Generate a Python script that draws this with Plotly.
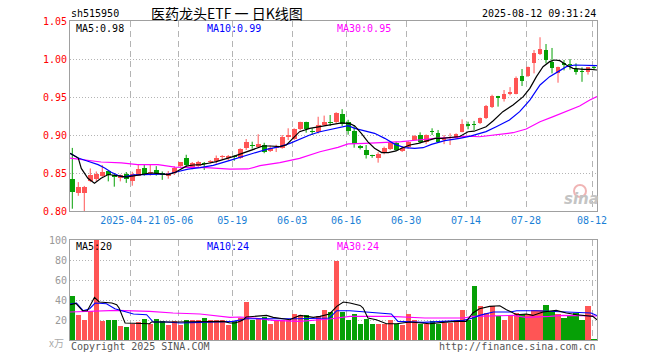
import plotly.graph_objects as go

# ---------------- data ----------------
dates = ["04-07","04-08","04-09","04-10","04-11","04-14","04-15","04-16","04-17","04-18",
         "04-21","04-22","04-23","04-24","04-25","04-28","04-29","04-30",
         "05-06","05-07","05-08","05-09","05-12","05-13","05-14","05-15","05-16","05-19","05-20",
         "05-21","05-22","05-23","05-26","05-27","05-28","05-29","05-30",
         "06-03","06-04","06-05","06-06","06-09","06-10","06-11","06-12","06-13","06-16","06-17",
         "06-18","06-19","06-20","06-23","06-24","06-25","06-26","06-27","06-30",
         "07-01","07-02","07-03","07-04","07-07","07-08","07-09","07-10","07-11","07-14","07-15",
         "07-16","07-17","07-18","07-21","07-22","07-23","07-24","07-25","07-28","07-29","07-30","07-31",
         "08-01","08-04","08-05","08-06","08-07","08-08","08-11","08-12"]

opens = [0.842,0.824,0.824,0.8395,0.8417,0.8465,0.852,0.848,0.8435,0.849,
         0.840,0.8465,0.857,0.850,0.854,0.8496,0.8465,0.8504,0.8588,0.870,
         0.8579,0.8596,0.8635,0.8645,0.8658,0.8705,0.8693,0.8715,0.8702,0.8825,
         0.8875,0.8846,0.8868,0.879,0.8825,0.8833,0.898,0.8947,0.908,0.9167,
         0.9055,0.9035,0.9132,0.9175,0.9167,0.9272,0.9167,0.9057,0.886,0.8803,
         0.873,0.8702,0.876,0.8816,0.890,0.8794,0.8838,0.8934,0.900,0.8904,
         0.9055,0.9022,0.894,0.896,0.8965,0.9043,0.914,0.9145,0.9154,0.922,
         0.9373,0.9513,0.947,0.954,0.954,0.9776,0.9776,0.9943,1.0062,1.0118,
         0.9965,0.982,0.9951,0.9925,0.9868,0.9838,0.9833,0.990]
highs = [0.883,0.838,0.833,0.856,0.852,0.8605,0.853,0.850,0.848,0.8513,
         0.8517,0.8605,0.861,0.8605,0.859,0.852,0.8526,0.8588,0.8645,0.874,
         0.8645,0.866,0.8645,0.867,0.873,0.8735,0.8737,0.8735,0.8825,0.8947,
         0.8912,0.901,0.8898,0.886,0.8872,0.900,0.9088,0.9088,0.9175,0.9175,
         0.9088,0.924,0.9255,0.9263,0.930,0.934,0.920,0.913,0.8868,0.8868,
         0.874,0.8773,0.8847,0.8912,0.891,0.8855,0.8921,0.900,0.9035,0.9008,
         0.9088,0.9066,0.900,0.9022,0.9022,0.9206,0.9175,0.9185,0.923,0.9395,
         0.953,0.9515,0.9592,0.963,0.977,0.9868,0.990,1.0118,1.0286,1.0197,
         1.0145,0.9899,0.9987,1.000,0.9943,0.989,0.9895,0.991]
lows = [0.803,0.820,0.800,0.838,0.839,0.845,0.839,0.832,0.839,0.837,
        0.8333,0.846,0.8465,0.8465,0.8465,0.841,0.8425,0.8474,0.858,0.858,
        0.8549,0.858,0.854,0.8625,0.8625,0.8675,0.8667,0.866,0.8684,0.8803,
        0.882,0.883,0.876,0.8776,0.8776,0.882,0.8934,0.8934,0.9062,0.903,
        0.900,0.902,0.9118,0.9118,0.915,0.9118,0.9004,0.8833,0.881,0.869,
        0.870,0.8636,0.8746,0.8803,0.879,0.8776,0.882,0.8934,0.889,0.888,
        0.900,0.8904,0.888,0.8868,0.8952,0.9035,0.9075,0.9066,0.9145,0.921,
        0.9355,0.9373,0.944,0.9522,0.9535,0.9645,0.9763,0.9811,1.0053,0.9943,
        0.9811,0.9688,0.985,0.986,0.9794,0.970,0.9795,0.986]
closes = [0.825,0.831,0.831,0.8474,0.8487,0.851,0.847,0.845,0.847,0.842,
          0.8487,0.8553,0.8487,0.851,0.8496,0.8478,0.8496,0.857,0.864,0.861,
          0.8628,0.864,0.862,0.866,0.870,0.8715,0.8724,0.8705,0.8816,0.8912,
          0.886,0.8877,0.878,0.8825,0.884,0.8978,0.900,0.908,0.9175,0.9075,
          0.9035,0.9132,0.9175,0.916,0.9285,0.914,0.9057,0.8882,0.8825,0.8737,
          0.872,0.8746,0.8825,0.8904,0.8803,0.8833,0.8912,0.899,0.8912,0.900,
          0.9043,0.8912,0.8955,0.8972,0.901,0.9145,0.9125,0.9135,0.922,0.9382,
          0.9513,0.9483,0.954,0.9562,0.9746,0.971,0.989,1.0083,1.0132,0.9987,
          0.9878,0.989,0.9917,0.9915,0.9833,0.9828,0.989,0.988]
volumes = [43.6,24.6,19.6,29,100,18.6,19.6,20.3,14.3,12.6,
           16.3,17.6,21.3,16.3,21.3,18.6,15.3,19.3,14.6,20.3,
           20.3,19.6,22.3,19.6,20.3,20.3,14.6,18.6,22.3,38.3,
           19.6,21.3,23.3,15.6,19.6,20.3,20.3,26.3,24.6,24.6,
           16.3,24.3,29.6,28.3,78.6,28,20.3,26.3,15.6,21.3,
           15.6,16.3,15.6,20.3,16.3,14.6,25.6,19.6,16.3,16.3,
           18.6,16.3,17,17,18,30.3,20.3,54.3,34.3,27,
           33.6,23.6,19.6,24.6,27,26,26,30.3,30.3,35.3,
           28,26.3,22.3,24.6,27,20.3,33.6,1.3]

# moving-average lines (x = trading-day index)
ma5_x = [-0.38,1,1.5,2.6,3.7,4.8,6,7,8.2,9.2,10,12,13,14,16,17.2,18,19,20.2,21.5,22.5,24,26.8,28.4,30.2,31.8,33,34.6,35.7,36.8,37.9,39.6,41.3,43,44.9,46.3,47.1,48.2,49.3,50.4,51.6,52.7,54,54.9,56.3,57.7,59.1,60.5,61.6,63,64.6,66,67,69,70.2,71.8,73.5,75.2,76.3,77.4,78.5,79.6,80.4,81.3,82.4,83.5,85.2,86.5,87.5]
ma5_y = [0.876,0.8697,0.856,0.843,0.8364,0.843,0.848,0.847,0.845,0.8445,0.846,0.849,0.850,0.8496,0.848,0.851,0.855,0.859,0.8605,0.861,0.8625,0.865,0.8715,0.876,0.8816,0.8855,0.8855,0.8847,0.8868,0.8956,0.9044,0.9088,0.911,0.914,0.916,0.915,0.912,0.9022,0.891,0.8825,0.8768,0.8768,0.879,0.8825,0.8868,0.889,0.8925,0.8956,0.8956,0.897,0.898,0.9043,0.905,0.9109,0.9188,0.9307,0.9395,0.9504,0.9614,0.9768,0.9899,0.9965,0.9987,0.9978,0.9921,0.9877,0.9864,0.9864,0.9855]
ma10_x = [-0.38,1,2.6,4.3,5.4,6.5,7.6,8.5,10.3,12,14,16,17.5,19.3,21.3,23.5,26.3,28.5,30.2,32.4,34.6,36.3,37.9,39.6,41.3,43,44.3,46,47.1,48.8,50.4,52.1,53.8,55.4,57.1,58.5,59.9,62.1,63.8,64.6,66.4,69,70.7,72.9,74.6,76.3,78,79.6,81.3,82.4,83.8,85.7,87.5]
ma10_y = [0.876,0.8697,0.8654,0.861,0.8566,0.851,0.847,0.845,0.8475,0.848,0.8487,0.8487,0.8517,0.855,0.857,0.860,0.8666,0.8724,0.876,0.881,0.8847,0.889,0.8943,0.900,0.9043,0.9075,0.910,0.9123,0.9088,0.9053,0.9022,0.8956,0.8877,0.8833,0.8825,0.8833,0.8877,0.8925,0.8943,0.8956,0.8985,0.9044,0.9109,0.9197,0.9307,0.946,0.9658,0.9768,0.9847,0.9899,0.9921,0.9921,0.9912]
ma30_x = [-0.38,2.6,4.8,8.2,10.9,14.3,17.1,19.3,22.3,26.3,29.3,31.3,34.6,37.9,41.3,44.3,46,48.8,52.1,54.9,57.7,60.5,63.8,66,67.9,70.7,73.5,75.7,78,80.2,82.4,84.6,86.3,87.5]
ma30_y = [0.8697,0.8662,0.8645,0.8632,0.861,0.861,0.8578,0.8575,0.8572,0.855,0.8553,0.8596,0.8636,0.8693,0.878,0.8838,0.8882,0.889,0.8904,0.8912,0.8934,0.8956,0.897,0.8985,0.8977,0.8999,0.903,0.9079,0.9175,0.9241,0.9307,0.9382,0.9461,0.9505]

vma5_x = [-0.38,0.6,1.7,2.5,3.7,4.5,6.6,7.4,7.8,8.8,12.9,13.2,17.4,21.3,25.2,26.3,27.1,27.9,28.5,29,31.3,32.4,33.5,36.3,36.9,38,40.2,41.3,42.9,44.1,45.2,46.3,48,48.5,49.3,50.7,52.4,54.1,56.3,59.6,61.8,64,65.7,66.8,67.9,69.6,71.3,72.4,74.1,75.7,76.8,78.5,80.7,82.4,84.1,85.7,86.8,87.5]
vma5_y = [35.3,36.6,29.3,29.3,42.6,38,37,35.3,32,17,16.3,18,18,18.6,18.6,17,17,18.6,20.3,23,23.6,24.6,22.6,20.3,22,24.6,22.6,23.6,26,33.6,38,37,34.6,32,22,20.3,16.3,16.3,18,16.3,17.6,18.6,18.6,27,31.3,33.6,34.3,30.3,25.3,26,24.6,28,29.6,27,25.3,24.6,23.6,20.3]
vma10_x = [-0.38,0.7,1.8,2.9,3.8,5.7,7.1,8.8,10.2,12.4,13.5,15.7,18,21.3,25.7,26.8,29,32.4,35.2,37.9,42.9,44.1,46.3,51.3,53.2,54.3,58.5,65.2,66.8,67.9,70.2,73,74.1,77.4,81.8,86.5,87.5]
vma10_y = [36,37,29.3,31.3,37,36.3,31.3,28,26,25.3,18,18,17,17.6,18,18.6,21.3,21.3,21,21.3,22,29.3,29.3,27,26,18.6,17.6,19.6,22,24.6,28,28,29.3,29.3,28,27,24.5]
vma30_x = [-0.38,7.4,12.9,16.8,21.3,26.3,28,29.7,33.5,37.9,42.9,46.3,53,58.8,65.2,66.8,73.5,75.7,79.6,81.8,87.5]
vma30_y = [28,29.6,28.6,27,26,22.6,23,22.3,19.6,18.6,21,23.6,23.6,22,22,23.6,24.6,22.6,23.6,24.6,24]

tick_dates = ["04-21","05-06","05-19","06-03","06-16","06-30","07-14","07-28","08-12"]
tick_labels = ["2025-04-21","05-06","05-19","06-03","06-16","06-30","07-14","07-28","08-12"]
price_ticks = [0.80,0.85,0.90,0.95,1.00,1.05]
vol_ticks = [20,40,60,80,100]

# ---------------- styling ----------------
RED = "#ff5555"
GREEN = "#06a006"
MONO = "DejaVu Sans Mono"
GRID = "#b4b4b4"
FRAME = "#a0a0a0"

idx = list(range(len(closes)))
is_up = [c >= o for o, c in zip(opens, closes)]
colors = [RED if u else GREEN for u in is_up]
body_base = [min(o, c) for o, c in zip(opens, closes)]
body_h = [max(abs(c - o), 0.0014) for o, c in zip(opens, closes)]

# date grid lines sit at the left edge of each candle slot
tick_pos = [dates.index(t) - 1/3 for t in tick_dates]

fig = go.Figure()

# wicks
for col, flag in ((RED, True), (GREEN, False)):
    wx, wy = [], []
    for i in idx:
        if is_up[i] == flag:
            wx += [i, i, None]
            wy += [lows[i], highs[i], None]
    fig.add_trace(go.Scatter(x=wx, y=wy, mode="lines", line=dict(color=col, width=1),
                             hoverinfo="skip", xaxis="x", yaxis="y"))

# bodies
fig.add_trace(go.Bar(x=idx, y=body_h, base=body_base, width=0.8,
                     marker=dict(color=colors, line=dict(width=0)), xaxis="x", yaxis="y"))

# price MAs
for xs, ys, col in ((ma30_x, ma30_y, "#ff00ff"), (ma10_x, ma10_y, "#0000ff"), (ma5_x, ma5_y, "#000000")):
    fig.add_trace(go.Scatter(x=xs, y=ys, mode="lines", line=dict(color=col, width=1.2),
                             xaxis="x", yaxis="y"))

# volume
fig.add_trace(go.Bar(x=idx, y=volumes, width=0.85,
                     marker=dict(color=colors, line=dict(width=0)), xaxis="x2", yaxis="y2"))
for xs, ys, col in ((vma30_x, vma30_y, "#ff00ff"), (vma10_x, vma10_y, "#0000ff"), (vma5_x, vma5_y, "#000000")):
    fig.add_trace(go.Scatter(x=xs, y=ys, mode="lines", line=dict(color=col, width=1.1),
                             xaxis="x2", yaxis="y2"))

# plot-area edges in the reference picture (pixels)
L, R, T, B = 70, 597, 21, 340
def px(x):
    return (x - L) / (R - L)
def py(y):
    return (B - y) / (B - T)

xr = [-0.383, 87.5]
common_x = dict(range=xr, tickmode="array", tickvals=tick_pos, showgrid=True, gridcolor=GRID,
                griddash="6px,4px", gridwidth=1, zeroline=False, showline=True, mirror=True,
                linecolor=FRAME, linewidth=1, ticks="", fixedrange=True, automargin=False)

fig.update_layout(
    width=660, height=360,
    margin=dict(l=L, r=660 - R, t=T, b=360 - B, autoexpand=False),
    paper_bgcolor="white", plot_bgcolor="white",
    showlegend=False, bargap=0, hovermode=False,
    xaxis=dict(common_x, domain=[0, 1], anchor="y", ticktext=tick_labels,
               tickfont=dict(family=MONO, size=10, color="#1a7fd6")),
    xaxis2=dict(common_x, domain=[0, 1], anchor="y2", showticklabels=False),
    yaxis=dict(domain=[py(211), 1], range=[0.80, 1.05], tickmode="array", tickvals=price_ticks,
               ticktext=["%.2f" % v for v in price_ticks], tickfont=dict(family=MONO, size=10, color="#ff0000"),
               showgrid=True, gridcolor=GRID, griddash="1px,2px", zeroline=False, showline=True,
               mirror=True, linecolor=FRAME, linewidth=1, ticks="", anchor="x", automargin=False,
               fixedrange=True),
    yaxis2=dict(domain=[0, py(240)], range=[0, 100], tickmode="array", tickvals=vol_ticks,
                ticktext=[str(v) for v in vol_ticks], tickfont=dict(family=MONO, size=10, color="#999999"),
                showgrid=True, gridcolor=GRID, griddash="1px,2px", zeroline=False, showline=True,
                mirror=True, linecolor=FRAME, linewidth=1, ticks="", anchor="x2", automargin=False,
                fixedrange=True),
)

def ann(text, x, y, color="#000000", size=10, xanchor="left", family=MONO, **kw):
    fig.add_annotation(text=text, x=px(x), y=py(y), xref="paper", yref="paper",
                       xanchor=xanchor, yanchor="middle", showarrow=False,
                       font=dict(family=family, size=size, color=color), **kw)

ann("sh515950", 69, 13)
ann("医药龙头ETF 一 日K线图", 149, 13, size=14, family="Noto Sans CJK SC")
ann("2025-08-12 09:31:24", 598, 13, xanchor="right")
ann("MA5:0.98", 74, 28)
ann("MA10:0.99", 205, 28, color="#0000ff")
ann("MA30:0.95", 335, 28, color="#ff00ff")
ann("MA5:20", 74, 247)
ann("MA10:24", 205, 247, color="#0000ff")
ann("MA30:24", 335, 247, color="#ff00ff")
ann("x万", 66, 342, color="#aaaaaa", xanchor="right", family="Noto Sans CJK SC")
ann("Copyright 2025 SINA.COM", 69, 346, color="#555555")
ann("http://finance.sina.com.cn", 598, 346, color="#555555", xanchor="right")
# sina watermark
fig.add_shape(type="circle", xref="paper", yref="paper", x0=px(574), x1=px(586), y0=py(197), y1=py(185),
              line=dict(color="#f0b4b4", width=2))
ann("<b><i>sina</i></b>", 581, 199, color="#c4c4c4", size=15, xanchor="center", family="DejaVu Sans")

fig.write_html("out.html", config={"displayModeBar": False, "staticPlot": True},
               post_script="document.body.style.margin='0px';")
